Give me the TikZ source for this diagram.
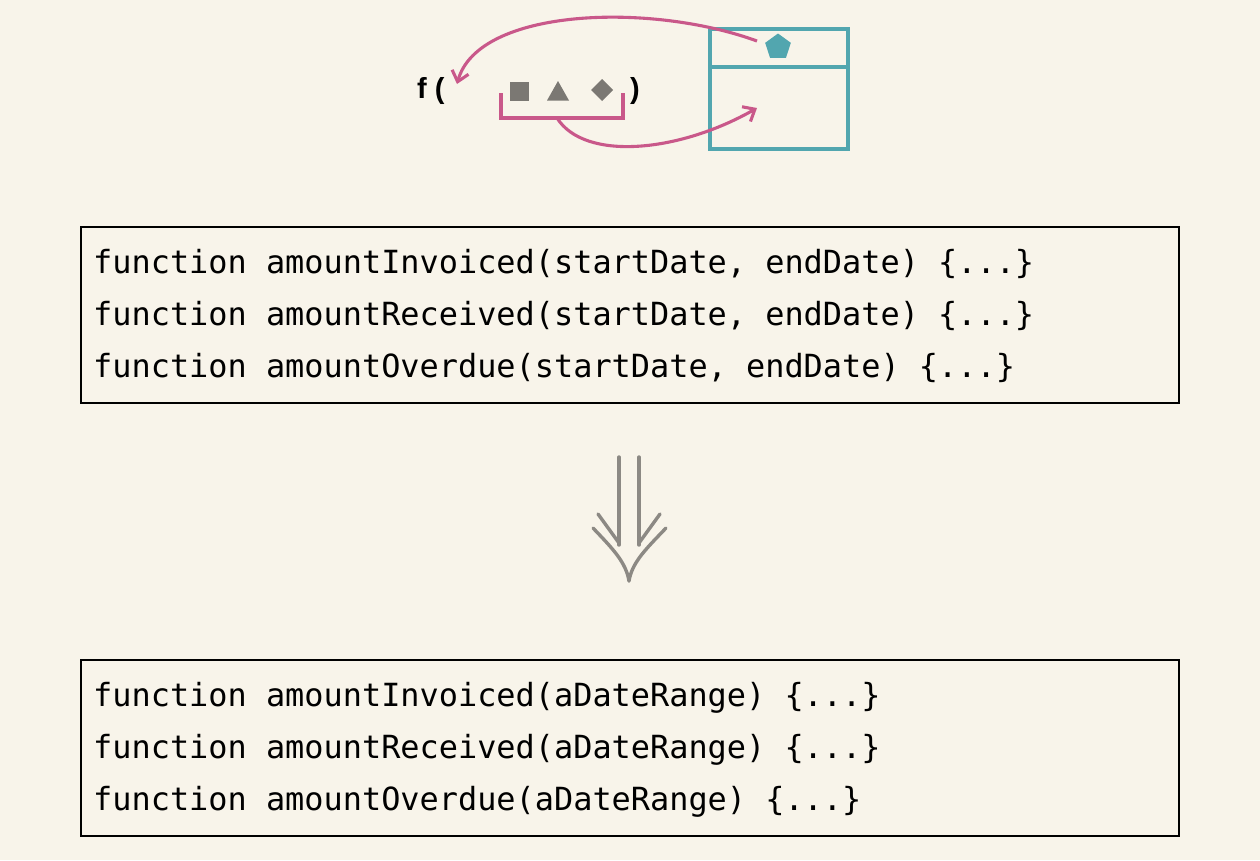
\documentclass[tikz,border=0pt]{standalone}
\usepackage{fontspec}
\setmainfont{Liberation Sans}
\setmonofont{DejaVu Sans Mono}
\usetikzlibrary{arrows.meta,shapes.geometric}
\definecolor{bgc}{HTML}{F8F4EA}
\definecolor{pinkc}{HTML}{C9588A}
\definecolor{tealc}{HTML}{52A6AF}
\definecolor{shapegray}{HTML}{7B7873}
\definecolor{arrowgray}{HTML}{8C8984}
\tikzset{
  codebox/.style={draw=black,line width=1.8pt,minimum width=1098pt,minimum height=176pt,inner sep=0pt},
  codeline/.style={anchor=base west,inner sep=0pt,font=\fontsize{31.9}{40}\selectfont\ttfamily},
  fnlabel/.style={inner sep=0pt,anchor=base west,font=\fontsize{29}{34}\selectfont\bfseries},
  pinkarrow/.style={draw=pinkc,line width=3.1pt,-{Straight Barb[length=10pt,width=17pt,line width=3.1pt]}},
  tealline/.style={draw=tealc,line width=3.1pt},
  grayshape/.style={fill=shapegray,draw=none},
  graystroke/.style={draw=arrowgray,line width=3.4pt,line cap=round,line join=round}
}
\begin{document}
\begin{tikzpicture}[x=1pt,y=-1pt]
\fill[bgc] (0,0) rectangle (1260,860);
\useasboundingbox (0,0) rectangle (1260,860);

% top diagram
\node[fnlabel] (fopen) at (417,98) {f (};
\node[fnlabel] (fclose) at (630,98) {)};
\fill[grayshape] (509.5,81.5) rectangle (528.5,100.5);
\fill[grayshape] (547,100.5) -- (558,81) -- (569,100.5) -- cycle;
\fill[grayshape] (602,79) -- (613,90) -- (602,101) -- (591,90) -- cycle;
\draw[draw=pinkc,line width=3.1pt] (501,93) -- (501,118) -- (623,118) -- (623,93);
\coordinate (brk) at (557,118);

\node[draw=tealc,line width=3.1pt,minimum width=138pt,minimum height=120pt,inner sep=0pt] (cls) at (779,89) {};
\draw[tealline] (cls.west |- 0,67) -- (cls.east |- 0,67);
\node[regular polygon,regular polygon sides=5,fill=tealc,minimum size=27pt,inner sep=0pt] (pent) at (778,47) {};
\coordinate (pstart) at (757,41);
\coordinate (ftip) at (457,84);
\coordinate (cbody) at (757,108);

\draw[pinkarrow] (pstart) .. controls (650,2) and (478,8) .. (ftip);
\draw[pinkarrow] (brk) .. controls (585,162) and (680,152) .. (cbody);

% box 1
\node[codebox] (box1) at (630,315) {};
\node[codeline] (l1) at (93,273) {function amountInvoiced(startDate, endDate) \{...\}};
\node[codeline] (l2) at (93,325) {function amountReceived(startDate, endDate) \{...\}};
\node[codeline] (l3) at (93,377) {function amountOverdue(startDate, endDate) \{...\}};

% big arrow
\draw[graystroke] (619,457) -- (619,545);
\draw[graystroke] (639,457) -- (639,545);
\draw[graystroke] (598,514) -- (619,543);
\draw[graystroke] (660,514) -- (639,543);
\draw[graystroke] (593,528) .. controls (612,548) and (626,562) .. (629,581);
\draw[graystroke] (666,528) .. controls (647,548) and (632,562) .. (629,581);

% box 2
\node[codebox] (box2) at (630,748) {};
\node[codeline] (m1) at (93,706) {function amountInvoiced(aDateRange) \{...\}};
\node[codeline] (m2) at (93,758) {function amountReceived(aDateRange) \{...\}};
\node[codeline] (m3) at (93,810) {function amountOverdue(aDateRange) \{...\}};
\end{tikzpicture}
\end{document}
